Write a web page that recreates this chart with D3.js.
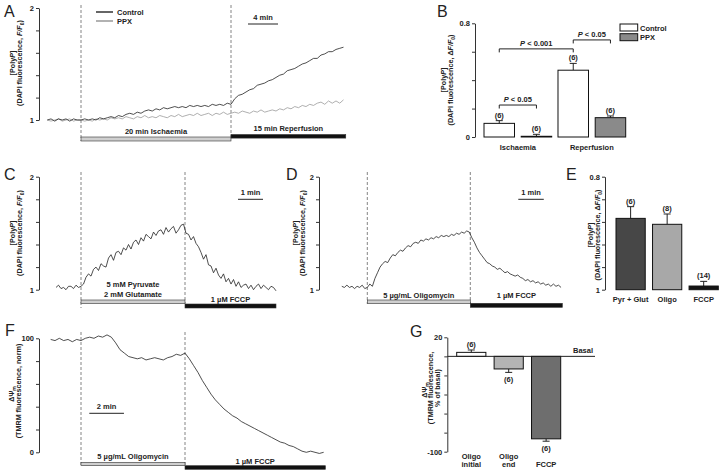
<!DOCTYPE html>
<html>
<head>
<meta charset="utf-8">
<script src="https://cdn.jsdelivr.net/npm/d3@7"></script>
<style>
  body { margin: 0; background: #fff; }
  svg { display: block; }
  text { font-family: "Liberation Sans", Arial, Helvetica, sans-serif; font-weight: bold; font-size: 7.5px; fill: #222; }
  .letter { font-weight: normal; font-size: 16px; }
  .ylab { font-size: 7.2px; }
  .axis path, .axis line { stroke: #333; stroke-width: 1; }
  .axis text { font-family: "Liberation Sans", Arial, sans-serif; font-weight: bold; font-size: 7.5px; fill: #222; }
</style>
</head>
<body>
<svg id="fig" width="720" height="472"></svg>
<script>
// ---- data ----
// A: DAPI F/F0, one sample every 0.5 min starting at -4.5 min
const tA0 = -4.5, dtA = 0.5;
const controlA = [1.00,1.01,0.99,1.01,1.00,1.01,0.99,1.01,1.00,1.00,
  1.01,1.00,1.01,1.00,1.02,1.01,1.02,1.03,1.02,1.04,
  1.03,1.05,1.06,1.05,1.07,1.06,1.08,1.09,1.08,1.10,
  1.09,1.11,1.10,1.11,1.12,1.11,1.12,1.11,1.13,1.12,
  1.13,1.12,1.13,1.12,1.14,1.13,1.14,1.13,1.15,1.14,
  1.19,1.22,1.23,1.25,1.27,1.28,1.31,1.32,1.33,1.35,
  1.36,1.38,1.40,1.41,1.44,1.45,1.46,1.48,1.50,1.51,
  1.53,1.55,1.55,1.58,1.59,1.61,1.61,1.63,1.64,1.65];
const ppxA = [1.00,0.99,1.00,1.01,0.99,1.00,1.01,0.99,1.00,1.00,
  0.99,1.00,0.99,1.01,1.00,1.01,1.00,1.02,1.01,1.02,
  1.01,1.03,1.02,1.01,1.03,1.02,1.04,1.02,1.03,1.02,
  1.04,1.03,1.02,1.04,1.03,1.05,1.03,1.04,1.05,1.04,
  1.06,1.04,1.05,1.06,1.04,1.06,1.05,1.07,1.05,1.06,
  1.07,1.06,1.08,1.07,1.06,1.08,1.07,1.09,1.07,1.08,
  1.09,1.08,1.10,1.09,1.11,1.10,1.12,1.11,1.13,1.12,
  1.14,1.13,1.15,1.16,1.14,1.17,1.15,1.17,1.15,1.18];

// B: mean dF/F0 and SEM
const catsB = ['Ischaemia', 'Reperfusion'];
const groupsB = ['Control', 'PPX'];
const controlB = [0.096, 0.47];
const controlErrB = [0.019, 0.048];
const ppxB = [0.005, 0.136];
const ppxErrB = [0.014, 0.012];
const nB = ['(6)', '(6)', '(6)', '(6)'];

// C: pyruvate/glutamate then FCCP, one sample every 0.1 min from -1 min
const tC0 = -1.0, dtC = 0.1;
const traceC = [1.02,1.04,1.01,1.02,1.00,1.03,1.03,1.01,1.04,1.02,1.03,
  1.05,1.11,1.14,1.12,1.18,1.20,1.17,1.23,1.21,1.20,
  1.28,1.31,1.26,1.33,1.34,1.31,1.37,1.35,1.40,1.36,
  1.42,1.44,1.40,1.46,1.43,1.49,1.47,1.45,1.51,1.48,
  1.52,1.53,1.49,1.55,1.51,1.54,1.56,1.50,1.53,1.57,
  1.58,1.50,1.49,1.44,1.47,1.41,1.38,1.33,1.27,1.31,
  1.22,1.21,1.15,1.19,1.13,1.10,1.14,1.07,1.10,1.05,
  1.09,1.03,1.07,1.02,1.04,1.05,1.01,1.04,1.00,1.03,
  1.05,1.01,1.04,1.02,1.00,1.03,1.02,0.99];

// D: oligomycin then FCCP, one sample every 0.1 min from -1 min
const tD0 = -1.0, dtD = 0.1;
const traceD = [1.03,1.02,1.04,1.02,1.03,1.01,1.03,1.02,1.04,1.01,1.02,
  1.05,1.03,1.10,1.15,1.20,1.23,1.25,1.24,1.28,1.31,
  1.30,1.33,1.35,1.34,1.37,1.39,1.38,1.41,1.42,1.41,
  1.44,1.43,1.45,1.44,1.46,1.45,1.47,1.46,1.48,1.47,
  1.48,1.47,1.49,1.48,1.50,1.49,1.51,1.50,1.52,1.51,
  1.46,1.42,1.37,1.33,1.30,1.27,1.24,1.23,1.21,1.20,
  1.18,1.19,1.17,1.15,1.16,1.14,1.13,1.12,1.13,1.11,
  1.10,1.08,1.09,1.07,1.08,1.06,1.07,1.05,1.06,1.04,
  1.05,1.03,1.05,1.03,1.04,1.02];

// E: mean dF/F0 and SEM
const catsE = ['Pyr + Glut', 'Oligo', 'FCCP'];
const valE = [0.505, 0.463, 0.026];
const errE = [0.083, 0.073, 0.033];
const nE = ['(6)', '(8)', '(14)'];

// F: TMRM (norm), one sample every 0.25 min from -1.75 min
const tF0 = -1.75, dtF = 0.25;
const traceF = [99,98,100,98,99,97,99,98,
  100,101,100,102,101,103,101,96,
  90,87,84,83,82,83,81,82,
  83,82,81,83,84,86,85,87,
  82,76,70,63,57,51,46,42,
  38,35,32,30,27,25,23,21,
  19,17,15,13,11,9,8,6,
  5,3,1,0,1,0,-1,0];

// G: % of basal
const catsG = [['Oligo', 'initial'], ['Oligo', 'end'], ['FCCP']];
const valG = [4.2, -13.2, -86.5];
const errG = [2.5, 3.6, 2.5];
const nG = ['(6)', '(6)', '(6)'];

// ---- helpers ----
const svg = d3.select('#fig');

function txt(x, y, s, anchor = 'middle') {
  return svg.append('text').attr('x', x).attr('y', y).attr('text-anchor', anchor).attr('fill', '#222').text(s);
}

function letter(x, y, s) {
  svg.append('text').attr('class', 'letter').attr('x', x).attr('y', y).text(s);
}

function leftAxis(x, scale, ticks, fmt) {
  svg.append('g').attr('class', 'axis').attr('transform', `translate(${x},0)`)
    .call(d3.axisLeft(scale).tickValues(ticks).tickSize(3).tickSizeOuter(0).tickPadding(2).tickFormat(fmt));
}

// segs: [text, italic?, dy, size]
function yLabel(x, y, segs) {
  const t = svg.append('text').attr('class', 'ylab').attr('transform', `translate(${x},${y}) rotate(-90)`).attr('text-anchor', 'middle');
  segs.forEach(s => {
    const sp = t.append('tspan').text(s[0]);
    if (s[1]) sp.style('font-style', 'italic');
    if (s[2]) sp.attr('dy', s[2]);
    if (s[3]) sp.style('font-size', s[3] + 'px');
  });
}

const polyP = [['[Poly'], ['P', true], [']']];
const dapi = [['(DAPI fluorescence, '], ['F/F', true], ['0', false, 1.5, 5], [')', false, -1.5]];
const dapiD = [['(DAPI fluorescence, \u0394'], ['F/F', true], ['0', false, 1.5, 5], [')', false, -1.5]];
const dpsi = [['\u0394\u03A8'], ['m', false, 1.5, 5]];

function trace(vals, t0, dt, x, y, color, w = 0.8) {
  const line = d3.line().x((d, i) => x(t0 + i * dt)).y(d => y(d));
  svg.append('path').datum(vals).attr('d', line)
    .attr('fill', 'none').attr('stroke', color).attr('stroke-width', w).attr('stroke-linejoin', 'round');
}

function dashed(x, y1, y2) {
  svg.append('line').attr('x1', x).attr('x2', x).attr('y1', y1).attr('y2', y2)
    .attr('stroke', '#666').attr('stroke-width', 0.8).attr('stroke-dasharray', '3,2');
}

function treat(x1, x2, y, h, fill) {
  svg.append('rect').attr('x', x1).attr('y', y).attr('width', x2 - x1).attr('height', h)
    .attr('fill', fill).attr('stroke', '#333').attr('stroke-width', 0.6);
}

function scaleBar(x1, x2, y, label) {
  svg.append('line').attr('x1', x1).attr('x2', x2).attr('y1', y).attr('y2', y).attr('stroke', '#222').attr('stroke-width', 1);
  txt((x1 + x2) / 2, y - 4, label);
}

function errBar(x, y0, y1) {
  svg.append('line').attr('x1', x).attr('x2', x).attr('y1', y0).attr('y2', y1).attr('stroke', '#222').attr('stroke-width', 1);
  svg.append('line').attr('x1', x - 3.5).attr('x2', x + 3.5).attr('y1', y1).attr('y2', y1).attr('stroke', '#222').attr('stroke-width', 1);
}

// ---- A ----
letter(4, 17, 'A');
const yA = d3.scaleLinear().domain([1, 2]).range([120, 8]);
const xA = d3.scaleLinear().domain([0, 20]).range([81, 231]);
leftAxis(39, yA, [1, 1.2, 1.4, 1.6, 1.8, 2], d => (d === 1 || d === 2) ? d : '');
yLabel(15, 63, polyP);
yLabel(22, 63, dapi);
dashed(xA(0), 5, 141);
dashed(xA(20), 5, 137);
trace(ppxA, tA0, dtA, xA, yA, '#9a9a9a');
trace(controlA, tA0, dtA, xA, yA, '#222');
svg.append('line').attr('x1', 96).attr('x2', 113).attr('y1', 12).attr('y2', 12).attr('stroke', '#333').attr('stroke-width', 1.5);
svg.append('line').attr('x1', 96).attr('x2', 113).attr('y1', 21).attr('y2', 21).attr('stroke', '#999').attr('stroke-width', 1.5);
txt(117, 14.5, 'Control', 'start');
txt(117, 23.5, 'PPX', 'start');
scaleBar(248, 248 + xA(4) - xA(0), 24, '4 min');
txt((xA(0) + xA(20)) / 2, 134, '20 min Ischaemia');
txt((xA(20) + xA(35.3)) / 2, 131, '15 min Reperfusion');
treat(xA(0), xA(20), 137, 4, '#cfcfcf');
treat(xA(20), xA(35.3), 134.5, 3.6, '#111');

// ---- B ----
letter(437, 17, 'B');
const yB = d3.scaleLinear().domain([0, 0.8]).range([137, 23.3]);
const xB = d3.scaleBand().domain(catsB).range([484, 625.7]).paddingInner(0.085);
const xB1 = d3.scaleBand().domain(groupsB).range([0, xB.bandwidth()]).paddingInner(0.18);
leftAxis(475, yB, [0, 0.2, 0.4, 0.6, 0.8], d => d === 0 ? '0' : d === 0.8 ? '0.8' : '');
yLabel(446, 80, polyP);
yLabel(453, 80, dapiD);
const rowsB = catsB.flatMap((c, i) => [
  { cat: c, grp: 'Control', v: controlB[i], e: controlErrB[i], fill: '#fff' },
  { cat: c, grp: 'PPX', v: ppxB[i], e: ppxErrB[i], fill: '#8a8a8a' }
]);
rowsB.forEach((r, k) => {
  const x = xB(r.cat) + xB1(r.grp), w = xB1.bandwidth();
  errBar(x + w / 2, yB(r.v), yB(r.v + r.e));
  svg.append('rect').attr('x', x).attr('y', yB(r.v)).attr('width', w).attr('height', yB(0) - yB(r.v))
    .attr('fill', r.fill).attr('stroke', '#111').attr('stroke-width', 1);
  txt(x + w / 2, yB(r.v + r.e) - 3, nB[k]);
});
catsB.forEach(c => txt(xB(c) + xB.bandwidth() / 2, 150, c));
// legend
groupsB.forEach((g, i) => {
  svg.append('rect').attr('x', 620).attr('y', 24 + i * 9.7).attr('width', 17.7).attr('height', 7)
    .attr('fill', i ? '#8a8a8a' : '#fff').attr('stroke', '#111').attr('stroke-width', 1);
  txt(640, 30.5 + i * 9.7, g, 'start');
});
// significance brackets
const sigB = [
  { a: ['Ischaemia', 'Control'], b: ['Ischaemia', 'PPX'], y: 0.225, p: '0.05' },
  { a: ['Ischaemia', 'Control'], b: ['Reperfusion', 'Control'], y: 0.62, p: '0.001' },
  { a: ['Reperfusion', 'Control'], b: ['Reperfusion', 'PPX'], y: 0.683, p: '0.05' }
];
sigB.forEach(s => {
  const cx = k => xB(k[0]) + xB1(k[1]) + xB1.bandwidth() / 2;
  const x1 = cx(s.a), x2 = cx(s.b), y = yB(s.y);
  svg.append('path').attr('d', `M${x1},${y + 3.5}V${y}H${x2}V${y + 3.5}`)
    .attr('fill', 'none').attr('stroke', '#222').attr('stroke-width', 1);
  const t = txt((x1 + x2) / 2, y - 3, '');
  t.append('tspan').style('font-style', 'italic').text('P');
  t.append('tspan').text(' < ' + s.p);
});

// ---- C ----
letter(4, 180, 'C');
const yC = d3.scaleLinear().domain([1, 2]).range([289.7, 176.7]);
const xC = d3.scaleLinear().domain([0, 4.16]).range([81, 185]);
leftAxis(39, yC, [1, 1.2, 1.4, 1.6, 1.8, 2], d => (d === 1 || d === 2) ? d : '');
yLabel(15, 233, polyP);
yLabel(22, 233, dapi);
dashed(xC(0), 172, 308);
dashed(xC(4.16), 172, 304);
trace(traceC, tC0, dtC, xC, yC, '#222');
scaleBar(238, 238 + xC(1) - xC(0), 199.3, '1 min');
txt((xC(0) + xC(4.16)) / 2, 287, '5 mM Pyruvate');
txt((xC(0) + xC(4.16)) / 2, 297, '2 mM Glutamate');
txt((xC(4.16) + xC(7.8)) / 2, 301.5, '1 \u00B5M FCCP');
treat(xC(0), xC(4.16), 300, 3.5, '#cfcfcf');
treat(xC(4.16), xC(7.8), 304, 4, '#111');

// ---- D ----
letter(286, 180, 'D');
const yD = d3.scaleLinear().domain([1, 2]).range([289.7, 176.7]);
const xD = d3.scaleLinear().domain([0, 4.04]).range([367.3, 470.3]);
leftAxis(319, yD, [1, 1.2, 1.4, 1.6, 1.8, 2], d => (d === 1 || d === 2) ? d : '');
yLabel(298, 233, polyP);
yLabel(305, 233, dapi);
dashed(xD(0), 172, 304);
dashed(xD(4.04), 172, 304);
trace(traceD, tD0, dtD, xD, yD, '#222');
scaleBar(518.3, 518.3 + xD(1) - xD(0), 199.3, '1 min');
txt((xD(0) + xD(4.04)) / 2, 297.5, '5 \u00B5g/mL Oligomycin');
txt((xD(4.04) + xD(7.65)) / 2, 297.5, '1 \u00B5M FCCP');
treat(xD(0), xD(4.04), 300, 3.6, '#cfcfcf');
treat(xD(4.04), xD(7.65), 303.3, 4, '#111');

// ---- E ----
letter(566, 180, 'E');
const yE = d3.scaleLinear().domain([0, 0.8]).range([289.7, 176.7]);
const xE = d3.scaleBand().domain(catsE).range([616, 718.3]).paddingInner(0.2);
leftAxis(605, yE, [0, 0.16, 0.32, 0.48, 0.64, 0.8], d => d === 0 ? '1' : d === 0.8 ? '0.8' : '');
yLabel(593, 235, polyP);
yLabel(600, 235, dapiD);
const colE = ['#474747', '#a8a8a8', '#141414'];
catsE.forEach((c, i) => {
  const x = xE(c), w = xE.bandwidth();
  errBar(x + w / 2, yE(valE[i]), yE(valE[i] + errE[i]));
  svg.append('rect').attr('x', x).attr('y', yE(valE[i])).attr('width', w).attr('height', yE(0) - yE(valE[i]))
    .attr('fill', colE[i]).attr('stroke', '#111').attr('stroke-width', 1);
  txt(x + w / 2, yE(valE[i] + errE[i]) - 3, nE[i]);
  txt(x + w / 2, 302, c);
});

// ---- F ----
letter(5, 336, 'F');
const yF = d3.scaleLinear().domain([0, 100]).range([452.3, 338.3]);
const xF = d3.scaleLinear().domain([0, 6]).range([81, 185]);
leftAxis(39, yF, [0, 20, 40, 60, 80, 100], d => (d === 0 || d === 100) ? d : '');
yLabel(14, 394, dpsi);
yLabel(21, 391, [['(TMRM fluorescence, norm)']]);
dashed(xF(0), 332, 466);
dashed(xF(6), 332, 466);
trace(traceF, tF0, dtF, xF, yF, '#222');
scaleBar(89.3, 89.3 + xF(2) - xF(0), 413.3, '2 min');
txt((xF(0) + xF(6)) / 2, 459, '5 \u00B5g/mL Oligomycin');
txt((xF(6) + xF(14.1)) / 2, 463.5, '1 \u00B5M FCCP');
treat(xF(0), xF(6), 462.3, 3.4, '#cfcfcf');
treat(xF(6), xF(14.1), 465.7, 3.6, '#111');

// ---- G ----
letter(410, 337, 'G');
const yG = d3.scaleLinear().domain([-100, 20]).range([451.7, 337.3]);
const xG = d3.scaleBand().domain(catsG.map(c => c.join(' '))).range([456.7, 560.7]).paddingInner(0.22);
leftAxis(447.3, yG, [-100, -80, -60, -40, -20, 0, 20], d => d === 20 ? '20' : d === -100 ? '-100' : '');
yLabel(427, 390, dpsi);
yLabel(433, 388, [['(TMRM fluorescence,']]);
yLabel(440, 388, [['% of basal)']]);
const colG = ['#fff', '#b4b4b4', '#6e6e6e'];
catsG.forEach((c, i) => {
  const key = c.join(' '), x = xG(key), w = xG.bandwidth();
  const v = valG[i], e = v >= 0 ? errG[i] : -errG[i];
  errBar(x + w / 2, yG(v), yG(v + e));
  svg.append('rect').attr('x', x).attr('y', Math.min(yG(v), yG(0))).attr('width', w)
    .attr('height', Math.abs(yG(v) - yG(0))).attr('fill', colG[i]).attr('stroke', '#111').attr('stroke-width', 1);
  txt(x + w / 2, v >= 0 ? yG(v + e) - 3 : yG(v + e) + 9.5, nG[i]);
  c.forEach((s, j) => txt(x + w / 2, c.length > 1 ? 459 + j * 7.7 : 466.7, s));
});
svg.append('line').attr('x1', 447.3).attr('x2', 595).attr('y1', yG(0)).attr('y2', yG(0)).attr('stroke', '#222').attr('stroke-width', 1);
txt(593, yG(0) - 3, 'Basal', 'end');
</script>
</body>
</html>
